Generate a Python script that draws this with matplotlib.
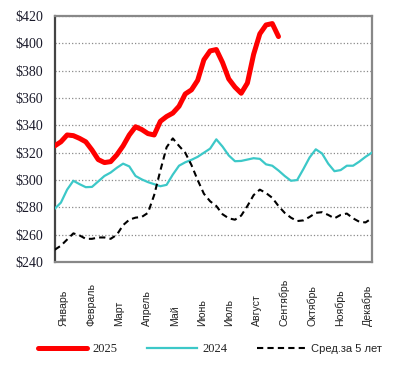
import matplotlib
matplotlib.use('Agg')
import matplotlib.pyplot as plt
import numpy as np

# weekly values, 52 weeks
vals_2025 = [325, 328, 333, 332.5, 330.5, 328, 322, 315, 312.8, 313.5,
             318.5, 325, 333, 339, 337, 334, 333, 343, 346.5, 349,
             354, 363, 366, 373, 388, 394.5, 395.5, 386, 374, 368,
             363.5, 371, 392, 407, 413.5, 414.5, 405]
vals_2024 = [279, 283.5, 293, 299.5, 297, 294.8, 295, 299, 303, 305.5,
             309, 312, 310, 303, 300.5, 298.5, 297, 295.5, 296.5, 304,
             310.5, 313, 314.8, 317, 320, 323, 329.8, 324.5, 318, 313.8,
             314, 315, 316, 315.5, 311.5, 310.5, 307, 303, 299.5, 300,
             308, 316.5, 322.5, 319.5, 312, 306.5, 307.3, 310.5, 310.5, 313.5,
             317, 320]
vals_avg5 = [249, 252, 256.5, 261, 259.5, 257, 257, 258, 258, 257,
             260, 267, 271, 272.5, 273, 276, 289, 307, 324, 330.5,
             325, 320, 311, 300, 290, 284.5, 281, 275, 272, 271,
             274, 281, 289, 293, 290.5, 287, 281, 276, 272.5, 270,
             270.5, 273, 276, 276.5, 274.5, 272, 274.5, 275.5, 272, 269.5,
             269, 272]

months = ['Январь', 'Февраль', 'Март', 'Апрель', 'Май', 'Июнь', 'Июль',
          'Август', 'Сентябрь', 'Октябрь', 'Ноябрь', 'Декабрь']
month_pos = [1.5, 5.9, 10.4, 14.8, 19.3, 23.7, 28.1, 32.6, 37.0, 41.4, 45.9, 50.3]
yticks = np.arange(240, 421, 20)

fig = plt.figure(figsize=(4.01, 3.65), dpi=100)
ax = fig.add_axes([0.1364, 0.282, 0.7906, 0.674])

ax.plot(range(len(vals_2025)), vals_2025, color='#FF0000', lw=3.6,
        solid_joinstyle='round', solid_capstyle='round', label='2025', zorder=4)
ax.plot(range(len(vals_2024)), vals_2024, color='#3CC8C8', lw=1.6,
        solid_joinstyle='round', label='2024', zorder=3)
ax.plot(range(len(vals_avg5)), vals_avg5, color='black', lw=1.5,
        linestyle=(0, (3, 2)), label='Сред.за 5 лет', zorder=3)

ax.set_xlim(0, 51)
ax.set_ylim(240, 420)
ax.set_yticks(yticks)
ax.set_yticklabels(['$' + str(v) for v in yticks], family='Liberation Serif',
                   fontsize=10, color='#1a1a2a')
ax.tick_params(axis='y', length=0, pad=8.5)
ax.set_xticks([])
ax.grid(axis='y', color='#8a8a8a', linestyle=':', lw=0.9)
ax.set_axisbelow(True)
for s in ax.spines.values():
    s.set_color('#888888')
    s.set_linewidth(1.6)
ax.spines['left'].set_color('#444444')

for p, m in zip(month_pos, months):
    ax.text(p, -0.26, m, transform=ax.get_xaxis_transform(), rotation=90,
            ha='center', va='bottom', fontsize=7.6, family='Liberation Sans',
            color='#222222')

leg = fig.legend(loc='center', bbox_to_anchor=(0.524, 0.044), ncol=3,
                 frameon=False, fontsize=8.5, handlelength=4.2,
                 handletextpad=0.45, columnspacing=2.5)
fams = ['Liberation Serif', 'Liberation Serif', 'Liberation Sans']
sizes = [9, 9, 8]
for t, f, sz in zip(leg.get_texts(), fams, sizes):
    t.set_family(f)
    t.set_fontsize(sz)
    t.set_color('#222222')

fig.savefig('out.png', dpi=100)
